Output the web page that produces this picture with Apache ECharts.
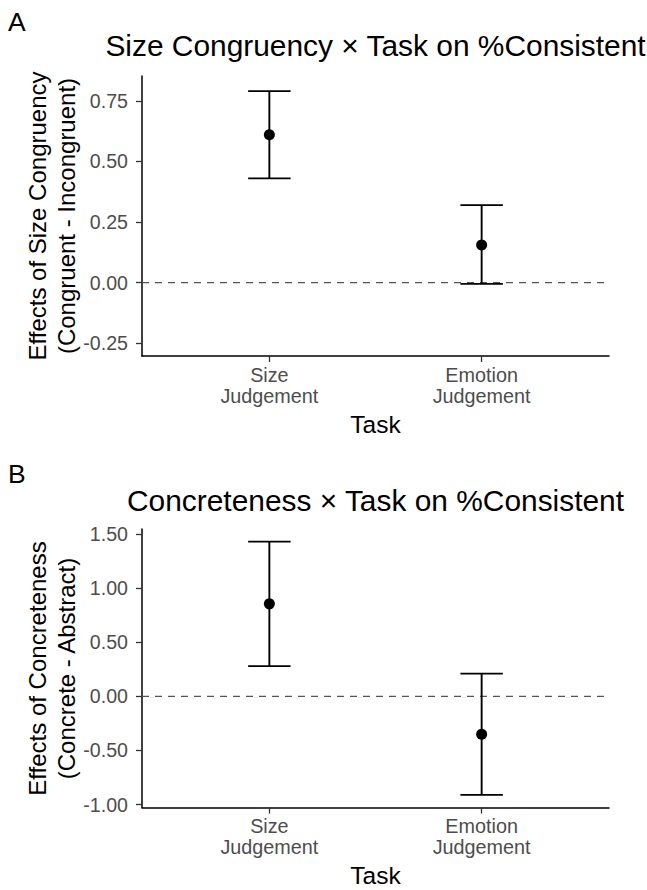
<!DOCTYPE html>
<html>
<head>
<meta charset="utf-8">
<script src="https://cdn.jsdelivr.net/npm/echarts@6/dist/echarts.min.js"></script>
<style>
  html, body { margin: 0; padding: 0; background: #fff; }
  #chart { width: 647px; height: 890px; }
</style>
</head>
<body>
<div id="chart"></div>
<script>
// ---- Data ----
const categories = ['Size\nJudgement', 'Emotion\nJudgement'];
const categoryPos = [1, 2];

// Panel A: Size Congruency x Task
const sizeCongMean  = [0.61, 0.155];
const sizeCongLower = [0.43, -0.005];
const sizeCongUpper = [0.79, 0.32];
const yTicksA = [-0.25, 0, 0.25, 0.5, 0.75];
const yLimitsA = [-0.25, 0.8];

// Panel B: Concreteness x Task
const concMean  = [0.855, -0.35];
const concLower = [0.28, -0.91];
const concUpper = [1.43, 0.21];
const yTicksB = [-1, -0.5, 0, 0.5, 1, 1.5];

const refLineValue = 0;

const titleA = 'Size Congruency \u00d7 Task on %Consistent';
const titleB = 'Concreteness \u00d7 Task on %Consistent';
const yNameA = 'Effects of Size Congruency\n(Congruent - Incongruent)';
const yNameB = 'Effects of Concreteness\n(Concrete - Abstract)';
const xName = 'Task';

// ---- Helpers ----
const FONT = "'Liberation Sans', Arial, Helvetica, sans-serif";
const X_MIN = 0.4, X_MAX = 2.6;
function expand(lo, hi) { const p = (hi - lo) * 0.05; return [lo - p, hi + p]; }
const limA = expand(yLimitsA[0], yLimitsA[1]);
const limB = expand(Math.min(...concLower), Math.max(...concUpper));

const CAP_WIDTH = 0.2;
function errRender(params, api) {
  const x = api.value(0), lo = api.value(1), hi = api.value(2);
  const pLo = api.coord([x, lo]);
  const pHi = api.coord([x, hi]);
  const half = api.size([CAP_WIDTH, 0])[0] / 2;
  const st = { stroke: '#000', lineWidth: 1.9 };
  return {
    type: 'group',
    children: [
      { type: 'line', shape: { x1: pLo[0], y1: pLo[1], x2: pHi[0], y2: pHi[1] }, style: st },
      { type: 'line', shape: { x1: pHi[0] - half, y1: pHi[1], x2: pHi[0] + half, y2: pHi[1] }, style: st },
      { type: 'line', shape: { x1: pLo[0] - half, y1: pLo[1], x2: pLo[0] + half, y2: pLo[1] }, style: st }
    ]
  };
}
function refRender(params, api) {
  const v = api.value(0);
  const p1 = api.coord([X_MIN, v]);
  const p2 = api.coord([X_MAX, v]);
  return {
    type: 'line',
    shape: { x1: p1[0], y1: p1[1], x2: p2[0], y2: p2[1] },
    style: { stroke: '#555', lineWidth: 1.1, lineDash: [7, 6], fill: null }
  };
}

function xAxisCfg(gridIndex) {
  return {
    type: 'value', gridIndex, min: X_MIN, max: X_MAX,
    splitLine: { show: false },
    axisLine: { show: true, onZero: false, lineStyle: { color: '#000', width: 1.5 } },
    axisTick: { show: true, customValues: categoryPos, length: 6, lineStyle: { color: '#333', width: 1.3 } },
    axisLabel: {
      customValues: categoryPos,
      formatter: v => categories[Math.round(v) - 1],
      fontFamily: FONT, fontSize: 19.8, color: '#4d4d4d', lineHeight: 21, margin: 8, align: 'center'
    }
  };
}
function yAxisCfg(gridIndex, lim, ticks) {
  return {
    type: 'value', gridIndex, min: lim[0], max: lim[1],
    splitLine: { show: false },
    axisLine: { show: true, onZero: false, lineStyle: { color: '#000', width: 1.5 } },
    axisTick: { show: true, customValues: ticks, length: 6, lineStyle: { color: '#333', width: 1.3 } },
    axisLabel: {
      customValues: ticks,
      formatter: v => v.toFixed(2),
      fontFamily: FONT, fontSize: 19.6, color: '#4d4d4d', margin: 14
    }
  };
}

function panelSeries(idx, mean, lower, upper) {
  return [
    {
      type: 'custom', xAxisIndex: idx, yAxisIndex: idx,
      renderItem: refRender, silent: true,
      encode: { y: 0 },
      data: [[refLineValue]],
      z: 1
    },
    {
      type: 'custom', xAxisIndex: idx, yAxisIndex: idx,
      renderItem: errRender,
      encode: { x: 0, y: [1, 2] },
      data: categoryPos.map((x, i) => [x, lower[i], upper[i]]),
      z: 3
    },
    {
      type: 'scatter', xAxisIndex: idx, yAxisIndex: idx,
      data: categoryPos.map((x, i) => [x, mean[i]]),
      symbol: 'circle', symbolSize: 11,
      itemStyle: { color: '#000', opacity: 1 },
      z: 4
    }
  ];
}

function txt(text, x, y, size, opts) {
  opts = opts || {};
  return {
    type: 'text', x, y, rotation: opts.rotation || 0, silent: true,
    style: {
      text, fontFamily: FONT, fontSize: size, fill: opts.fill || '#000',
      align: opts.align || 'center', verticalAlign: 'middle',
      lineHeight: opts.lineHeight
    }
  };
}

const chart = echarts.init(document.getElementById('chart'), null, { renderer: 'svg' });
chart.setOption({
  animation: false,
  backgroundColor: '#fff',
  grid: [
    { left: 142, top: 76, width: 467, height: 280 },
    { left: 142, top: 529, width: 467, height: 278.5 }
  ],
  xAxis: [xAxisCfg(0), xAxisCfg(1)],
  yAxis: [yAxisCfg(0, limA, yTicksA), yAxisCfg(1, limB, yTicksB)],
  series: [
    ...panelSeries(0, sizeCongMean, sizeCongLower, sizeCongUpper),
    ...panelSeries(1, concMean, concLower, concUpper)
  ],
  graphic: [
    txt('A', 8, 21.5, 26.5, { align: 'left' }),
    txt(titleA, 375.5, 45, 29.9),
    txt(xName, 375.5, 424, 24.5),
    txt(yNameA, 51.5, 216, 24, { rotation: Math.PI / 2, lineHeight: 29 }),
    txt('B', 8, 474, 26.5, { align: 'left' }),
    txt(titleB, 375.5, 500, 29.9),
    txt(xName, 375.5, 875.6, 24.5),
    txt(yNameB, 51.5, 668.5, 24, { rotation: Math.PI / 2, lineHeight: 29 })
  ]
});
</script>
</body>
</html>
